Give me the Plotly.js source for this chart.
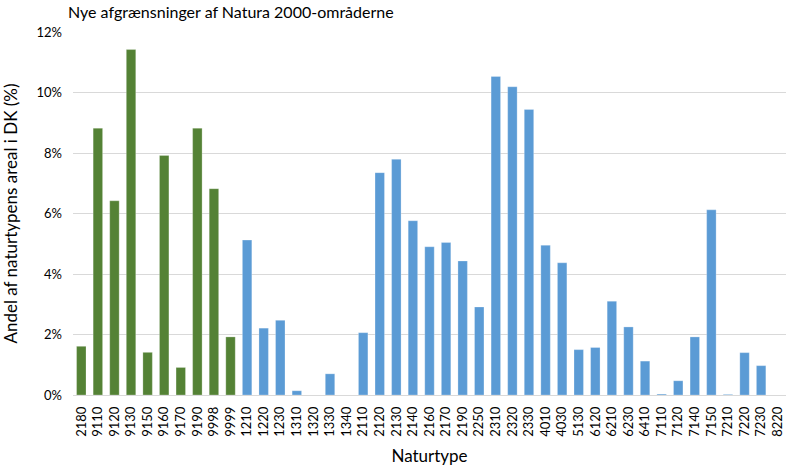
<!DOCTYPE html>
<html><head><meta charset="utf-8">
<script src="https://cdn.plot.ly/plotly-3.0.1.min.js"></script>
<style>body{margin:0;background:#fff}#chart{width:800px;height:468px}</style>
</head><body><div id="chart"></div>
<script>
const greenTypes = ['2180','9110','9120','9130','9150','9160','9170','9190','9998','9999'];
const greenValues = [1.61,8.82,6.42,11.42,1.41,7.92,0.91,8.82,6.82,1.92];
const blueTypes = ['1210','1220','1230','1310','1320','1330','1340','2110','2120','2130','2140','2160','2170','2190','2250','2310','2320','2330','4010','4030','5130','6120','6210','6230','6410','7110','7120','7140','7150','7210','7220','7230','8220'];
const blueValues = [5.12,2.21,2.47,0.14,0,0.70,0,2.06,7.35,7.79,5.76,4.90,5.04,4.43,2.91,10.53,10.19,9.44,4.95,4.37,1.50,1.57,3.10,2.25,1.12,0.03,0.47,1.92,6.12,0.02,1.40,0.97,0];
const yTicks = [0,2,4,6,8,10,12];
const yTickText = ['0%','2%','4%','6%','8%','10%','12%'];
const GREEN = '#548235', BLUE = '#5b9bd5';

const cats = greenTypes.concat(blueTypes);
const vals = greenValues.concat(blueValues);
const colors = greenTypes.map(()=>GREEN).concat(blueTypes.map(()=>BLUE));

const font = 'Lato, "Open Sans", sans-serif';
Plotly.newPlot('chart', [{
  type:'bar', x:cats, y:vals,
  marker:{color:colors, line:{color:'rgba(255,255,255,0.5)', width:0.5}},
  hoverinfo:'x+y'
}], {
  width:800, height:468,
  margin:{l:73, r:14, t:32, b:73},
  paper_bgcolor:'#fff', plot_bgcolor:'#fff',
  bargap:0.43,
  showlegend:false,
  title:{text:'Nye afgrænsninger af Natura 2000-områderne', x:0.085, xanchor:'left', y:0.985, yanchor:'top', font:{family:font, size:16, color:'#000'}},
  xaxis:{type:'category', tickangle:-90, tickfont:{family:font, size:13, color:'#000'}, showgrid:false, zeroline:false, showline:false, ticks:'', ticklabelstandoff:8,
    title:{text:'Naturtype', font:{family:font, size:17, color:'#000'}, standoff:14}},
  yaxis:{range:[0,12], tickvals:yTicks, ticktext:yTickText, tickfont:{family:font, size:13, color:'#000'}, gridcolor:'#d9d9d9', gridwidth:1, zeroline:true, zerolinecolor:'#d9d9d9', showline:false, ticks:'', ticklabelstandoff:10,
    title:{text:'Andel af naturtypens areal i DK (%)', font:{family:font, size:17, color:'#000'}, standoff:14}}
}, {displayModeBar:false, staticPlot:true});
</script></body></html>
